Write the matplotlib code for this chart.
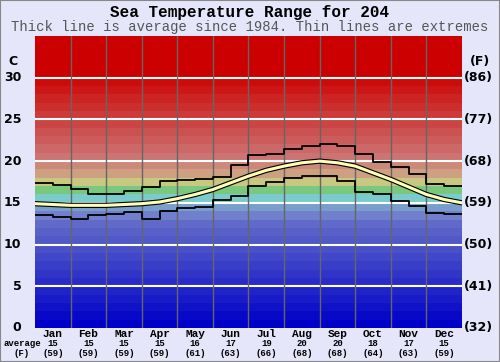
import numpy as np
import matplotlib
matplotlib.use("Agg")
import matplotlib.pyplot as plt
import matplotlib.patheffects as pe

months = ["Jan", "Feb", "Mar", "Apr", "May", "Jun", "Jul", "Aug", "Sep", "Oct", "Nov", "Dec"]
month_avg_c = [15, 15, 15, 15, 16, 17, 19, 20, 20, 18, 17, 15]
month_avg_f = [59, 59, 59, 59, 61, 63, 66, 68, 68, 64, 63, 59]

# average at every half month (start of Jan .. end of Dec)
avg_line = [14.9, 14.8, 14.7, 14.7, 14.7, 14.8, 14.9, 15.1, 15.5, 16.0, 16.6, 17.4,
            18.2, 18.9, 19.4, 19.8, 20.0, 19.8, 19.4, 18.6, 17.8, 16.9, 16.0, 15.4, 15.0]
# extremes, one level per half month
max_line = [17.4, 17.1, 16.7, 16.1, 16.0, 16.4, 16.9, 17.6, 17.7, 17.8, 18.1, 19.5,
            20.7, 20.9, 21.5, 21.8, 22.0, 21.8, 20.8, 19.9, 19.3, 18.4, 17.3, 17.0]
min_line = [13.5, 13.3, 13.1, 13.6, 13.7, 13.9, 13.1, 14.0, 14.4, 14.5, 15.3, 15.8,
            17.0, 17.5, 18.0, 18.2, 18.2, 17.6, 16.3, 16.0, 15.2, 14.6, 13.8, 13.7]

c_ticks = [0, 5, 10, 15, 20, 25, 30]
f_ticks = ["(32)", "(41)", "(50)", "(59)", "(68)", "(77)", "(86)"]

bg = "#e6e6fa"
fig = plt.figure(figsize=(5, 3.62), dpi=100, facecolor=bg)
ax = fig.add_axes([0.07, 0.094, 0.854, 0.8066])
ax.set_xlim(0, 12)
ax.set_ylim(0, 35)


def band_color(t):
    if t < 13:
        k = t / 13
        return (k * 105 / 255, k * 115 / 255, 200 / 255)
    fixed = {13: (112, 128, 204), 14: (122, 158, 204), 15: (122, 204, 204),
             16: (122, 200, 125), 17: (200, 200, 128), 18: (204, 160, 128),
             19: (204, 136, 120)}
    if t in fixed:
        return tuple(v / 255 for v in fixed[t])
    g = max(0, 115 - (t - 20) * 11.5)
    return (204 / 255, g / 255, g / 255)


for t in range(35):
    ax.axhspan(t, t + 1, color=band_color(t), lw=0)

for t in c_ticks[1:]:
    ax.axhline(t, color="white", lw=1.5)
for m in range(1, 12):
    ax.axvline(m, color="#666666", lw=1)

half = np.arange(25) / 2
ax.plot(half, max_line + [max_line[-1]], color="black", lw=1.3, drawstyle="steps-post")
ax.plot(half, min_line + [min_line[-1]], color="black", lw=1.3, drawstyle="steps-post")
ax.plot(half, avg_line, color="#ffffb8", lw=2.2,
        path_effects=[pe.Stroke(linewidth=3.8, foreground="black"), pe.Normal()])

ax.set_xticks([])
ax.set_yticks([])
for s in ax.spines.values():
    s.set_visible(False)

for t in c_ticks:
    ax.text(-0.38, t, str(t), ha="right", va="center", fontsize=9,
            fontweight="bold", color="black", clip_on=False)
for t, lab in zip(c_ticks, f_ticks):
    ax.text(12.05, t, lab, ha="left", va="center", fontsize=9,
            fontweight="bold", color="black", clip_on=False)
ax.text(-0.5, 32, "C", ha="right", va="center", fontsize=9, fontweight="bold")
ax.text(12.5, 32, "(F)", ha="center", va="center", fontsize=9, fontweight="bold",
        clip_on=False)

for i, m in enumerate(months):
    x = (i + 0.5) / 12 * 0.854 + 0.07
    fig.text(x, 0.076, m, ha="center", va="center", family="Liberation Mono",
             fontsize=8, fontweight="bold")
    fig.text(x, 0.050, str(month_avg_c[i]), ha="center", va="center",
             family="Liberation Mono", fontsize=6.5, fontweight="bold")
    fig.text(x, 0.024, "(%d)" % month_avg_f[i], ha="center", va="center",
             family="Liberation Mono", fontsize=6.5, fontweight="bold")
fig.text(0.044, 0.050, "average", ha="center", va="center",
         family="Liberation Mono", fontsize=6.5, fontweight="bold")
fig.text(0.044, 0.024, "(F)", ha="center", va="center",
         family="Liberation Mono", fontsize=6.5, fontweight="bold")

fig.text(0.5, 0.966, "Sea Temperature Range for 204", ha="center", va="center",
         family="Liberation Mono", fontsize=11.5, fontweight="bold")
fig.text(0.5, 0.925, "Thick line is average since 1984. Thin lines are extremes",
         ha="center", va="center", family="Liberation Mono", fontsize=10, color="#555555")

fig.patches.append(plt.Rectangle((0, 0), 1, 1, transform=fig.transFigure,
                                 fill=False, edgecolor="#888888", lw=1.5))

fig.savefig("out.png", dpi=100, facecolor=bg)
